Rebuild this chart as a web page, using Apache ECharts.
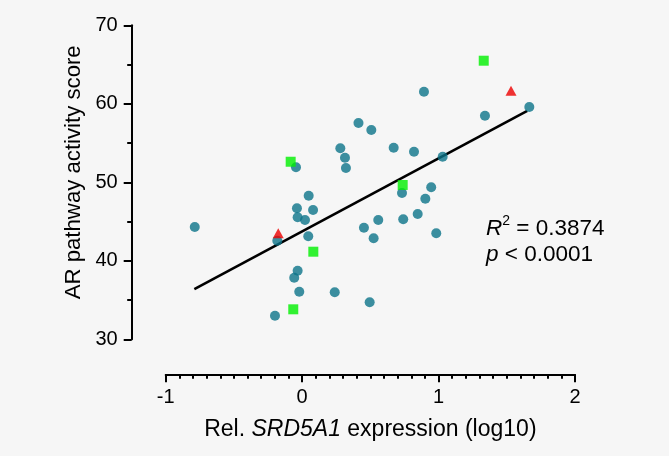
<!DOCTYPE html>
<html>
<head>
<meta charset="utf-8">
<script src="https://cdn.jsdelivr.net/npm/echarts@6/dist/echarts.min.js"></script>
<style>
html,body{margin:0;padding:0;background:#f6f6f6;}
#c{width:669px;height:456px;}
</style>
</head>
<body>
<div id="c"></div>
<script>
// Data
const circleX = [-0.787,-0.199,-0.182,-0.045,-0.038,-0.033,0.021,0.048,0.080,0.045,-0.033,-0.058,-0.021,0.239,0.280,0.314,0.321,0.413,0.507,0.453,0.524,0.558,0.495,0.671,0.820,0.732,0.741,0.847,0.903,0.946,0.983,1.030,0.893,1.340,1.665];
const circleY = [44.31,33.01,42.56,51.91,46.69,45.54,45.20,48.29,46.47,43.12,38.74,37.85,36.06,35.99,54.33,53.13,51.82,57.55,56.66,44.22,42.87,45.20,34.71,54.41,53.90,48.64,45.29,45.96,47.91,49.36,43.50,53.26,61.54,58.48,59.59];
const squareX = [-0.084,0.082,-0.065,0.737,1.331];
const squareY = [52.62,41.16,33.82,49.66,65.49];
const triangleX = [-0.175,1.531];
const triangleY = [43.50,61.67];
const fitX = [-0.79,1.65];
const fitY = [36.4,59.1];
const xTicks = [-1,0,1,2];
const yTicks = [30,40,50,60,70];
const statR2 = '0.3874';
const statP = '< 0.0001';

const pairs = (xs, ys) => xs.map((x, i) => [x, ys[i]]);
const FONT = 'Liberation Sans, Arial, sans-serif';

const chart = echarts.init(document.getElementById('c'), null, {renderer: 'canvas'});
chart.setOption({
  backgroundColor: '#f6f6f6',
  animation: false,
  grid: {left: 165.7, right: 94, top: 25.3, bottom: 116.7},
  xAxis: {
    type: 'value',
    min: xTicks[0], max: xTicks[xTicks.length - 1], interval: 1,
    offset: 35,
    axisLine: {show: true, onZero: false, lineStyle: {color: '#000', width: 2}},
    axisTick: {show: true, length: 8, lineStyle: {color: '#000', width: 2}},
    minorTick: {show: true, splitNumber: 10, length: 4.5, lineStyle: {color: '#000', width: 2}},
    splitLine: {show: false},
    axisLabel: {color: '#000', fontSize: 20, fontFamily: FONT, margin: 13},
    name: 'Rel. {i|SRD5A1} expression (log10)',
    nameLocation: 'middle',
    nameGap: 44,
    nameTextStyle: {color: '#000', fontSize: 23, fontFamily: FONT, verticalAlign: 'top',
      rich: {i: {fontStyle: 'italic', fontSize: 23, fontFamily: FONT, color: '#000'}}}
  },
  yAxis: {
    type: 'value',
    min: yTicks[0], max: yTicks[yTicks.length - 1], interval: 10,
    offset: 34,
    axisLine: {show: true, onZero: false, lineStyle: {color: '#000', width: 2}},
    axisTick: {show: true, length: 8, lineStyle: {color: '#000', width: 2}},
    minorTick: {show: true, splitNumber: 2, length: 4.5, lineStyle: {color: '#000', width: 2}},
    splitLine: {show: false},
    axisLabel: {color: '#000', fontSize: 20, fontFamily: FONT, margin: 14},
    name: 'AR pathway activity score',
    nameLocation: 'middle',
    nameGap: 46,
    nameTextStyle: {color: '#000', fontSize: 22.2, fontFamily: FONT, padding: [0, 0, 0, 20]}
  },
  series: [
    {
      type: 'line', data: pairs(fitX, fitY), symbol: 'none', z: 1,
      lineStyle: {color: '#000', width: 2.6}, silent: true
    },
    {
      type: 'scatter', data: pairs(circleX, circleY), symbol: 'circle', symbolSize: 10, z: 3,
      itemStyle: {color: '#0c7489'}
    },
    {
      type: 'scatter', data: pairs(squareX, squareY), symbol: 'rect', symbolSize: 10, z: 4,
      itemStyle: {color: '#00f000'}
    },
    {
      type: 'scatter', data: pairs(triangleX, triangleY), symbol: 'triangle', symbolSize: [11, 10], z: 4,
      itemStyle: {color: '#ee0000'}
    }
  ],
  graphic: [
    {
      type: 'text', left: 486, top: 214,
      style: {
        text: '{i|R}{s|2}{n| = ' + statR2 + '}',
        rich: {
          i: {fontStyle: 'italic', fontSize: 22.5, fontFamily: FONT, fill: '#000', lineHeight: 26, verticalAlign: 'bottom'},
          s: {fontSize: 14, fontFamily: FONT, fill: '#000', lineHeight: 26, verticalAlign: 'top'},
          n: {fontSize: 22.5, fontFamily: FONT, fill: '#000', lineHeight: 26, verticalAlign: 'bottom'}
        }
      }
    },
    {
      type: 'text', left: 486, top: 243,
      style: {
        text: '{i|p}{n| ' + statP + '}',
        rich: {
          i: {fontStyle: 'italic', fontSize: 22.5, fontFamily: FONT, fill: '#000'},
          n: {fontSize: 22.5, fontFamily: FONT, fill: '#000'}
        }
      }
    }
  ]
});
</script>
</body>
</html>
